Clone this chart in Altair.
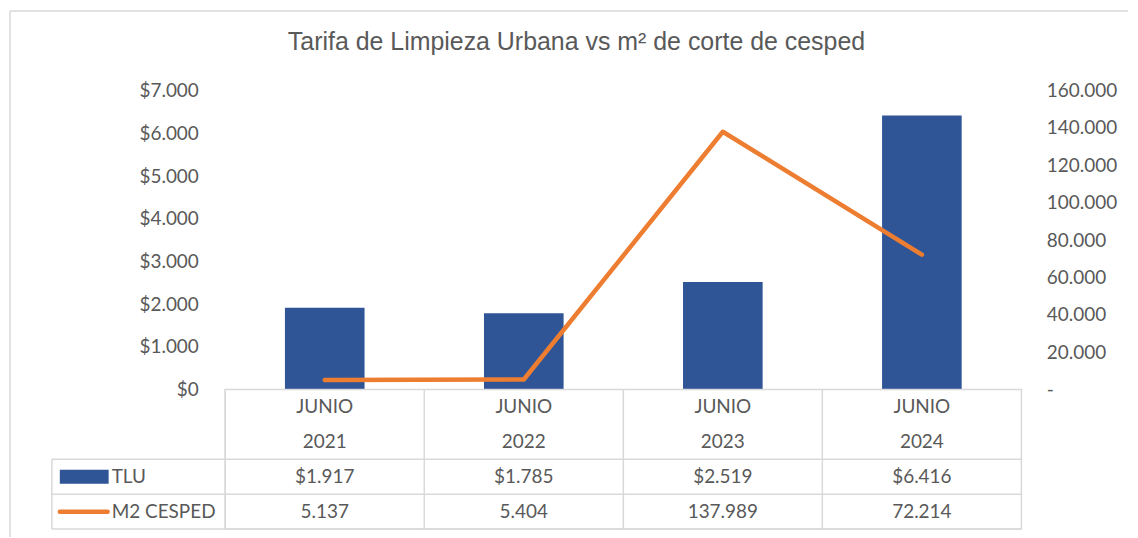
import altair as alt
import pandas as pd

# ---- data ----
months = ["JUNIO", "JUNIO", "JUNIO", "JUNIO"]
years = ["2021", "2022", "2023", "2024"]
tlu = [1917, 1785, 2519, 6416]
m2_cesped = [5137, 5404, 137989, 72214]
series_names = ["TLU", "M2 CESPED"]
left_ticks = [0, 1000, 2000, 3000, 4000, 5000, 6000, 7000]
right_ticks = [0, 20000, 40000, 60000, 80000, 100000, 120000, 140000, 160000]
title_text = "Tarifa de Limpieza Urbana vs m² de corte de cesped"

BLUE = "#2F5597"
ORANGE = "#ED7D31"
GRAY = "#595959"
GRID = "#D9D9D9"
FONT = "Lato"
TFONT = "Liberation Sans"


def miles(v):
    return f"{v:,}".replace(",", ".")


cats = [f"{m} {y}" for m, y in zip(months, years)]
main_df = pd.DataFrame({"cat": cats, "tlu": tlu, "m2": m2_cesped})

cells = []
for c, m, y, t, s in zip(cats, months, years, tlu, m2_cesped):
    cells += [
        {"cat": c, "row": 0.5, "txt": m},
        {"cat": c, "row": 1.5, "txt": y},
        {"cat": c, "row": 2.5, "txt": "$" + miles(t)},
        {"cat": c, "row": 3.5, "txt": miles(s)},
    ]
cells_df = pd.DataFrame(cells)
legend_df = pd.DataFrame({"name": series_names, "row": [2.5, 3.5]})
hlines_df = pd.DataFrame({"row": [2, 3, 4]})
vedge_df = pd.DataFrame({"row": [2], "row2": [4]})
one_df = pd.DataFrame({"k": [0]})

W, H, HB = 799, 300, 140

# ---- top: bars + line with dual axes ----
xs = alt.X("cat:N", sort=cats, axis=None,
           scale=alt.Scale(paddingInner=0.6, paddingOuter=0.3))

bars = alt.Chart(main_df).mark_bar(color=BLUE).encode(
    x=xs,
    y=alt.Y("tlu:Q",
            scale=alt.Scale(domain=[0, 7000], nice=False),
            axis=alt.Axis(values=left_ticks, ticks=False, domain=False, grid=False,
                          labelPadding=27, title=None,
                          labelFont=FONT, labelFontSize=19, labelColor=GRAY,
                          labelExpr="'$' + replace(format(datum.value, ',.0f'), ',', '.')")),
)

line = alt.Chart(main_df).mark_line(color=ORANGE, strokeWidth=4.5, strokeCap="round",
                                    strokeJoin="round").encode(
    x=xs,
    y=alt.Y("m2:Q",
            scale=alt.Scale(domain=[0, 160000], nice=False),
            axis=alt.Axis(orient="right", values=right_ticks, ticks=False, domain=False,
                          grid=False, labelPadding=25, title=None,
                          labelFont=FONT, labelFontSize=19, labelColor=GRAY,
                          labelExpr="datum.value == 0 ? '-' : replace(format(datum.value, ',.0f'), ',', '.')")),
)

top = alt.layer(bars, line).resolve_scale(y="independent").properties(
    width=W, height=H,
    title=alt.TitleParams(title_text, font=TFONT, fontSize=25, fontWeight="normal",
                          color=GRAY, anchor="middle", dx=-47, offset=27),
    view=alt.ViewBackground(stroke="transparent"),
)

# ---- bottom: data table ----
xb = alt.X("cat:N", sort=cats, axis=None,
           scale=alt.Scale(paddingInner=0, paddingOuter=0))
yb_scale = alt.Scale(domain=[0, 4], reverse=True, nice=False, zero=False)

text = alt.Chart(cells_df).mark_text(font=FONT, fontSize=19, color=GRAY).encode(
    x=xb, y=alt.Y("row:Q", axis=None, scale=yb_scale), text="txt:N")

vlines = alt.Chart(main_df).mark_rule(color=GRID, strokeWidth=1.5).encode(
    x=alt.X("cat:N", sort=cats, bandPosition=0, axis=None),
    y=alt.value(0), y2=alt.value(HB))

hlines = alt.Chart(hlines_df).mark_rule(color=GRID, strokeWidth=1.5).encode(
    y=alt.Y("row:Q", axis=None, scale=yb_scale),
    x=alt.value(-174), x2=alt.value(W))

vedge = alt.Chart(vedge_df).mark_rule(color=GRID, strokeWidth=1.5).encode(
    y=alt.Y("row:Q", axis=None, scale=yb_scale), y2="row2:Q",
    x=alt.value(-174))

sw_bar = alt.Chart(legend_df).transform_filter(alt.datum.name == "TLU").mark_rule(
    color=BLUE, strokeWidth=14, strokeCap="butt").encode(
    y=alt.Y("row:Q", axis=None, scale=yb_scale),
    x=alt.value(-166), x2=alt.value(-117))

sw_line = alt.Chart(legend_df).transform_filter(alt.datum.name == "M2 CESPED").mark_rule(
    color=ORANGE, strokeWidth=4.5, strokeCap="round").encode(
    y=alt.Y("row:Q", axis=None, scale=yb_scale),
    x=alt.value(-166), x2=alt.value(-118))

leg_text = alt.Chart(legend_df).mark_text(font=FONT, fontSize=19, color=GRAY,
                                          align="left").encode(
    y=alt.Y("row:Q", axis=None, scale=yb_scale),
    x=alt.value(-114), text="name:N")

frame_top = alt.Chart(one_df).mark_rule(color=GRID, strokeWidth=1.5).encode(
    x=alt.value(-216), x2=alt.value(906), y=alt.value(-380))
frame_left = alt.Chart(one_df).mark_rule(color=GRID, strokeWidth=1.5).encode(
    x=alt.value(-216), y=alt.value(-380), y2=alt.value(148))

bottom = alt.layer(vlines, hlines, vedge, sw_bar, sw_line, leg_text, text,
                   frame_top, frame_left).properties(
    width=W, height=HB,
    view=alt.ViewBackground(stroke=GRID, strokeWidth=1.5),
)

chart = alt.vconcat(top, bottom, spacing=0, bounds="flush").properties(
    padding={"left": 0, "top": 0, "right": 0, "bottom": 0},
    background="white",
)

chart.save("out.html", embed_options={"renderer": "svg", "actions": False})
